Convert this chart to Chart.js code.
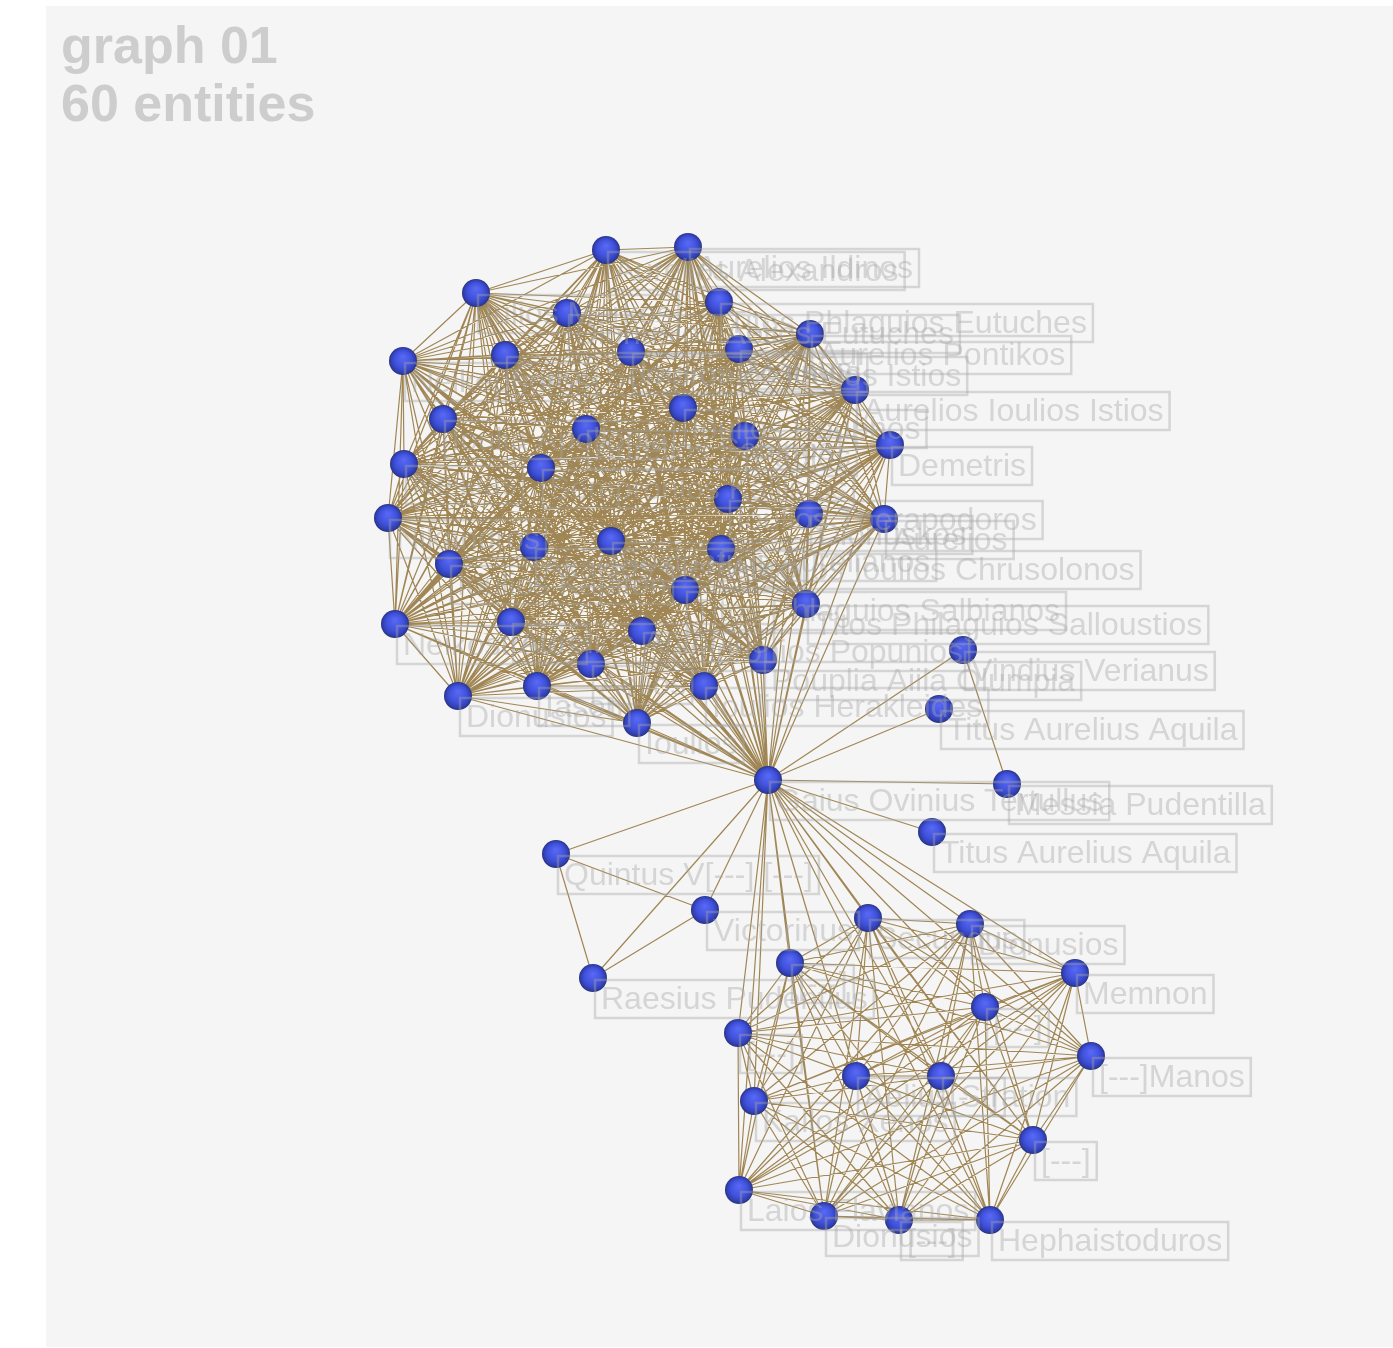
<!DOCTYPE html>
<html>
<head>
<meta charset="utf-8">
<title>graph 01</title>
<script src="https://cdn.jsdelivr.net/npm/chart.js@4"></script>
<style>
  html, body { margin: 0; padding: 0; background: #fff; overflow: hidden; }
  canvas { display: block; filter: blur(0.6px); }
</style>
</head>
<body>
<canvas id="graph" width="1393" height="1348"></canvas>
<script>
const titleLines = ["graph 01", "60 entities"];

// node tables (same order in all of them)
const nodeNames = [
  "Gaius Ovinius Tertullus",
  "Aurelios Alexandros", "Aurelios Ildinos", "Iulios Markos", "Dionusios Aelios Eutuches", "Titos Phlaguios Eutuches",
  "Aurelios Pontikos", "Neikephoros", "Gaios Sempronios Ioulios Istios", "Ioulios Zosimos", "Markos",
  "Aurelios Ioulios Istios", "Ioulia Apollonia", "Aurelios Sabinos", "Ioulios Rouphos", "Paulos",
  "Demetris", "Neikias", "Sempronios Kallistos", "Ioulios Therapodoros", "Dionuskos",
  "Aurelios", "Nikandros", "Akakios Gemellos", "Sosipatros Aurelianos", "Aurelios Ioulios Chrusolonos",
  "Ioulios Kapiton", "Titos Phlaguios Salbianos", "Titos Philaguios Salloustios", "Neikostratos", "Aurelios Antonios",
  "Sempronios Popunios", "Aelios", "Pouplia Aiila Olumpia", "Iason", "Ioulios Herakleides",
  "Dionusios", "Ioulios",
  "Vindius Verianus", "Titus Aurelius Aquila", "Messia Pudentilla", "Titus Aurelius Aquila",
  "Quintus V[---] [---]", "Victorinus", "Raesius Pudentius",
  "Secundus", "Dionusios", "[---]", "Memnon", "[---]", "[---]", "[---]Manos",
  "Aelius Stration", "[---]", "Kallos Xenos", "[---]", "Laios Flavianos",
  "Dionusios", "[---]", "Hephaistoduros"
];
const nodeX = [
  768,
  606, 688, 476, 567, 719, 810, 403, 505, 631, 739,
  855, 443, 586, 683, 745, 890, 404, 541, 728, 809,
  884, 388, 534, 611, 721, 449, 685, 806, 395, 511,
  642, 591, 763, 537, 704, 458, 637,
  963, 939, 1007, 932, 556, 705, 593,
  868, 970, 790, 1075, 985, 738, 1091, 856, 941, 754, 1033, 739, 824, 899, 990
];
const nodeY = [
  780,
  250, 247, 293, 313, 302, 334, 361, 355, 352, 349,
  390, 419, 429, 408, 436, 445, 464, 468, 499, 514,
  519, 518, 547, 541, 549, 564, 590, 604, 624, 622,
  631, 664, 660, 686, 686, 696, 723,
  650, 709, 784, 832, 854, 910, 978,
  918, 924, 963, 973, 1007, 1033, 1056, 1076, 1076, 1101, 1140, 1190, 1216, 1220, 1220
];
// u = upper clique, l = lower clique, x = loose nodes
const nodeGroups = [
  "h",
  "u","u","u","u","u","u","u","u","u","u",
  "u","u","u","u","u","u","u","u","u","u",
  "u","u","u","u","u","u","u","u","u","u",
  "u","u","u","u","u","u","u",
  "x","x","x","x","x","x","x",
  "l","l","l","l","l","l","l","l","l","l","l","l","l","l","l"
];
// links between loose nodes, as names index pairs
const extraLinks = [[38, 40], [42, 43], [42, 44], [43, 44]];

const panelColor = "#f5f5f5";
const edgeColor = "rgb(160,134,84)";
const labelColor = "rgba(165,165,165,0.4)";

// every edge: same clique, or anything to the hub
function buildEdges() {
  const pts = [];
  const add = (a, b) => {
    pts.push({ x: nodeX[a], y: nodeY[a] }, { x: nodeX[b], y: nodeY[b] }, { x: null, y: null });
  };
  for (let a = 0; a < nodeX.length; a++) {
    for (let b = a + 1; b < nodeX.length; b++) {
      const same = nodeGroups[a] === nodeGroups[b] && nodeGroups[a] !== "x";
      if (same || nodeGroups[a] === "h") add(a, b);
    }
  }
  extraLinks.forEach(l => add(l[0], l[1]));
  return pts;
}

function makeBall(size) {
  const c = document.createElement("canvas");
  c.width = size;
  c.height = size;
  const g = c.getContext("2d");
  const r = size / 2;
  const grad = g.createRadialGradient(r, r * 0.7, 1, r, r, r);
  grad.addColorStop(0, "#5668f2");
  grad.addColorStop(0.55, "#4153de");
  grad.addColorStop(0.85, "#3240b4");
  grad.addColorStop(1, "#28347f");
  g.fillStyle = grad;
  g.beginPath();
  g.arc(r, r, r, 0, Math.PI * 2);
  g.fill();
  return c;
}

const panelPlugin = {
  id: "panel",
  beforeDraw(chart) {
    const { ctx, scales: { x, y } } = chart;
    ctx.save();
    ctx.fillStyle = panelColor;
    ctx.fillRect(x.getPixelForValue(46), y.getPixelForValue(6), x.getPixelForValue(1393) - x.getPixelForValue(46), y.getPixelForValue(1347) - y.getPixelForValue(6));
    ctx.fillStyle = "#cdcdcd";
    ctx.font = "bold 52px 'Liberation Sans'";
    ctx.fillText(titleLines[0], x.getPixelForValue(61), y.getPixelForValue(63));
    ctx.fillText(titleLines[1], x.getPixelForValue(61), y.getPixelForValue(121));
    ctx.restore();
  }
};

// name tags go on top of everything, anchored to their node
const tagPlugin = {
  id: "tags",
  afterDatasetsDraw(chart) {
    const { ctx, scales: { x, y } } = chart;
    ctx.save();
    ctx.font = "32px 'Liberation Sans'";
    ctx.textBaseline = "alphabetic";
    nodeNames.forEach((name, i) => {
      const left = x.getPixelForValue(nodeX[i]) + 2;
      const top = y.getPixelForValue(nodeY[i]) + 2;
      const w = ctx.measureText(name).width + 12;
      ctx.strokeStyle = labelColor;
      ctx.lineWidth = 2.5;
      ctx.strokeRect(left, top, w, 38);
      ctx.fillStyle = labelColor;
      ctx.fillText(name, left + 6, top + 29);
    });
    ctx.restore();
  }
};

new Chart(document.getElementById("graph"), {
  type: "scatter",
  data: {
    datasets: [
      {
        label: "entities",
        data: nodeX.map((v, i) => ({ x: v, y: nodeY[i] })),
        pointStyle: makeBall(28),
        pointRadius: 14,
        showLine: false,
        order: 1
      },
      {
        label: "links",
        data: buildEdges(),
        showLine: true,
        spanGaps: false,
        borderColor: edgeColor,
        borderWidth: 1.2,
        pointRadius: 0,
        order: 2
      }
    ]
  },
  options: {
    responsive: false,
    animation: false,
    events: [],
    layout: { padding: 0, autoPadding: false },
    plugins: { legend: { display: false }, tooltip: { enabled: false } },
    scales: {
      x: { type: "linear", min: 0, max: 1393, display: false },
      y: { type: "linear", min: 0, max: 1348, reverse: true, display: false }
    }
  },
  plugins: [panelPlugin, tagPlugin]
});
</script>
</body>
</html>
